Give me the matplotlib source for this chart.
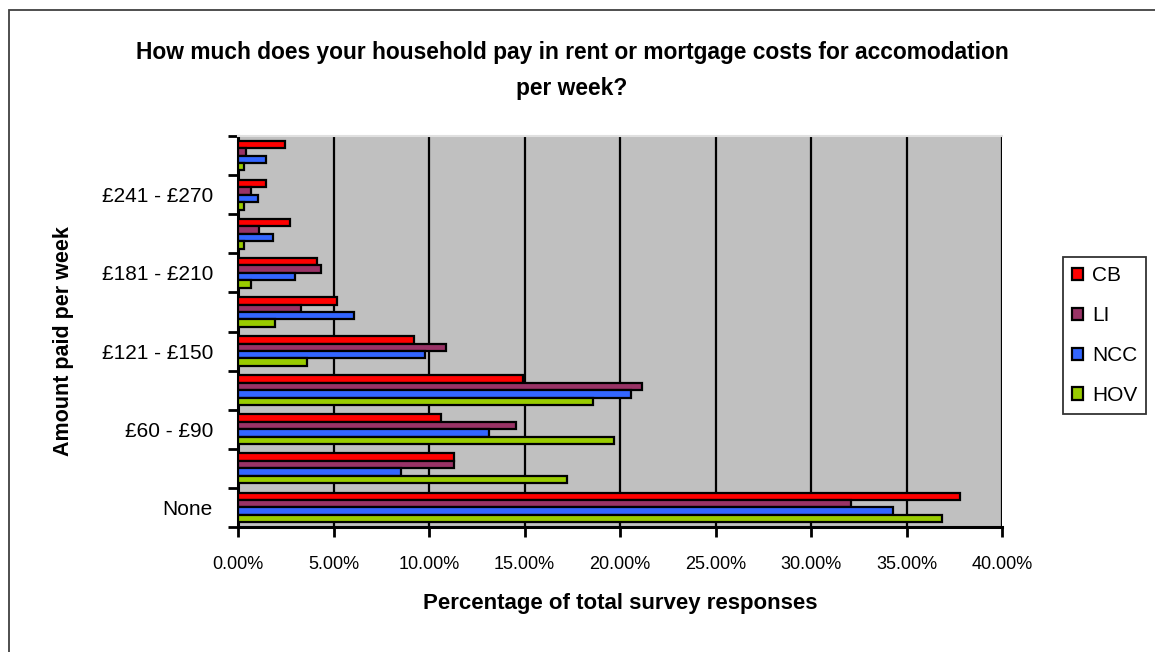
import matplotlib
matplotlib.use("Agg")
import matplotlib.pyplot as plt
import numpy as np
from matplotlib.patches import Rectangle
from matplotlib.ticker import FuncFormatter, FixedLocator

plt.rcParams['font.family'] = ['Liberation Sans', 'DejaVu Sans']

# ---- data (bottom category first) ----
tick_labels = ["None", "", "£60 - £90", "", "£121 - £150", "", "£181 - £210", "", "£241 - £270", ""]
series_names = ["CB", "LI", "NCC", "HOV"]
cb = [37.8, 11.3, 10.65, 14.9, 9.2, 5.2, 4.15, 2.7, 1.45, 2.45]
li = [32.1, 11.3, 14.55, 21.15, 10.9, 3.3, 4.35, 1.1, 0.7, 0.4]
ncc = [34.3, 8.55, 13.15, 20.6, 9.8, 6.05, 3.0, 1.85, 1.05, 1.45]
hov = [36.85, 17.25, 19.7, 18.6, 3.6, 1.95, 0.7, 0.3, 0.3, 0.3]
colors = ["#FF0000", "#993366", "#3366FF", "#99CC00"]
xticks = [0, 5, 10, 15, 20, 25, 30, 35, 40]

W, H = 1155, 652
fig = plt.figure(figsize=(W / 100, H / 100), dpi=100)
fig.patch.set_facecolor("white")

# outer chart frame (cut off at right and bottom)
fig.patches.append(Rectangle((8.5 / W, -0.1), 1.2, 1.1 - 9.5 / H,
                             transform=fig.transFigure, fill=False,
                             edgecolor="#404040", linewidth=1.3))

ax = fig.add_axes([238 / W, (H - 527) / H, (1002 - 238) / W, (527 - 136) / H])
ax.set_facecolor("#C0C0C0")

n = len(tick_labels)
y = np.arange(n)
h = 0.19
offsets = [1.5 * h, 0.5 * h, -0.5 * h, -1.5 * h]
for vals, off, col, name in zip([cb, li, ncc, hov], offsets, colors, series_names):
    ax.barh(y + off, vals, height=h, color=col, edgecolor="black",
            linewidth=1.6, label=name, zorder=3)

ax.set_xlim(0, 40)
ax.set_ylim(-0.5, n - 0.5)
ax.set_xticks(xticks)
ax.xaxis.set_major_formatter(FuncFormatter(lambda v, p: f"{v:.2f}%"))
ax.grid(axis="x", color="black", linewidth=1.6, zorder=1)

# y ticks: marks at category boundaries, labels at centres
ax.yaxis.set_major_locator(FixedLocator(np.arange(-0.5, n, 1.0)))
ax.set_yticklabels([""] * (n + 1))
ax.set_yticks(y, minor=True)
ax.set_yticklabels(tick_labels, minor=True)
ax.tick_params(axis="y", which="minor", length=0, pad=18, labelsize=15)
ax.tick_params(axis="y", which="major", length=7, width=2, direction="out")
ax.tick_params(axis="x", length=7, width=2, direction="out", labelsize=13, pad=14)

for s in ["left", "bottom"]:
    ax.spines[s].set_linewidth(2.2)
    ax.spines[s].set_color("black")
ax.spines["top"].set_color("#E0E0E0")
ax.spines["top"].set_linewidth(1.5)
ax.spines["right"].set_visible(False)

fig.text(572 / W, 1 - 52 / H, "How much does your household pay in rent or mortgage costs for accomodation",
         ha="center", va="center", fontsize=16.4, fontweight="bold")
fig.text(572 / W, 1 - 88 / H, "per week?", ha="center", va="center",
         fontsize=16.4, fontweight="bold")
fig.text(620 / W, 1 - 603 / H, "Percentage of total survey responses",
         ha="center", va="center", fontsize=16, fontweight="bold")
fig.text(63 / W, 1 - 341 / H, "Amount paid per week", rotation=90,
         ha="center", va="center", fontsize=15.5, fontweight="bold")

leg = fig.legend(loc="upper left", bbox_to_anchor=(1063 / W, 1 - 257 / H),
                 borderaxespad=0, fontsize=15, frameon=True, fancybox=False,
                 edgecolor="black", handlelength=0.53, handleheight=0.53,
                 handletextpad=0.4, labelspacing=1.0, borderpad=0.45)
leg.get_frame().set_linewidth(1.3)

fig.savefig("out.png", dpi=100)
